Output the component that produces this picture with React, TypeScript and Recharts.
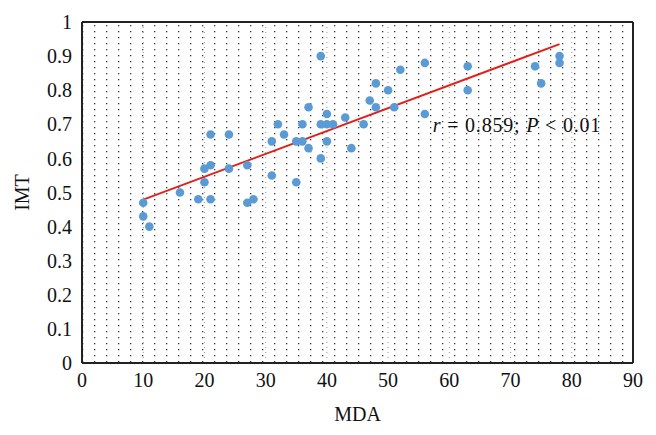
import React from 'react';
import {
  CartesianGrid,
  ReferenceDot,
  ReferenceLine,
  Scatter,
  ScatterChart,
  XAxis,
  YAxis,
} from 'recharts';

// MDA (x) and IMT (y) per subject
const mdaValues = [
  10, 10, 11, 16, 19, 20, 20, 21, 21, 21, 24, 24, 27, 27, 28, 31, 31, 32, 33, 35, 35, 36, 36, 37, 37,
  39, 39, 39, 40, 40, 40, 41, 43, 44, 46, 47, 48, 48, 50, 51, 52, 56, 56, 63, 63, 74, 75, 78, 78,
];
const imtValues = [
  0.47, 0.43, 0.4, 0.5, 0.48, 0.57, 0.53, 0.58, 0.48, 0.67, 0.57, 0.67, 0.58, 0.47, 0.48, 0.65, 0.55,
  0.7, 0.67, 0.53, 0.65, 0.65, 0.7, 0.75, 0.63, 0.9, 0.7, 0.6, 0.73, 0.7, 0.65, 0.7, 0.72, 0.63, 0.7,
  0.77, 0.82, 0.75, 0.8, 0.75, 0.86, 0.88, 0.73, 0.87, 0.8, 0.87, 0.82, 0.9, 0.88,
];

// fitted trend line end points
const trendX = [10, 78];
const trendY = [0.479, 0.935];

const xTicks = [0, 10, 20, 30, 40, 50, 60, 70, 80, 90];
const yTicks = [0, 0.1, 0.2, 0.3, 0.4, 0.5, 0.6, 0.7, 0.8, 0.9, 1];

const points = mdaValues.map((x, i) => ({ x, y: imtValues[i] }));

const FONT = '"Liberation Serif", "Times New Roman", serif';
const tickStyle = { fill: '#111', fontSize: 20, fontFamily: FONT };
const frame = '#222';

function Annotation({ viewBox }: any) {
  if (!viewBox) return null;
  return (
    <text x={viewBox.x} y={viewBox.y} fontFamily={FONT} fontSize={20} fill="#111" letterSpacing={0.8}>
      <tspan fontStyle="italic">r</tspan>
      <tspan> = 0.859; </tspan>
      <tspan fontStyle="italic">P</tspan>
      <tspan> &lt; 0.01</tspan>
    </text>
  );
}

export default function App() {
  return (
    <ScatterChart width={640} height={419} margin={{ top: 14, right: 15, bottom: 6, left: 14 }}>
      <defs>
        {/* dotted fill of the plot area */}
        <pattern id="dots" patternUnits="userSpaceOnUse" x={74} y={14} width={12} height={6}>
          <rect x={12} y={3} width={1.3} height={1.3} fill="#3a3a3a" />
          <rect x={0} y={3} width={1.3} height={1.3} fill="#3a3a3a" />
        </pattern>
      </defs>
      <CartesianGrid
        fill="url(#dots)"
        fillOpacity={1}
        horizontal={false}
        stroke="#999"
        strokeDasharray="1 4"
      />
      <XAxis
        type="number"
        dataKey="x"
        domain={[0, 90]}
        ticks={xTicks}
        tickLine={false}
        tickSize={0}
        tickMargin={10}
        axisLine={{ stroke: frame, strokeWidth: 2 }}
        tick={tickStyle}
        height={58}
        label={{ value: 'MDA', position: 'insideBottom', offset: 0, style: tickStyle }}
      />
      <YAxis
        type="number"
        dataKey="y"
        domain={[0, 1]}
        ticks={yTicks}
        tickLine={false}
        tickSize={0}
        tickMargin={10}
        axisLine={{ stroke: frame, strokeWidth: 2 }}
        tick={tickStyle}
        width={60}
        label={{
          value: 'IMT',
          angle: -90,
          position: 'insideLeft',
          offset: 0,
          style: { ...tickStyle, textAnchor: 'middle' },
        }}
      />
      <ReferenceLine y={1} stroke={frame} strokeWidth={2} />
      <ReferenceLine x={90} stroke={frame} strokeWidth={2} />
      <Scatter
        data={points}
        fill="#5b9bd5"
        isAnimationActive={false}
        shape={(p: any) => <circle cx={p.cx} cy={p.cy} r={4.3} fill="#5b9bd5" />}
      />
      <ReferenceLine
        segment={[
          { x: trendX[0], y: trendY[0] },
          { x: trendX[1], y: trendY[1] },
        ]}
        stroke="#e0221c"
        strokeWidth={2}
      />
      <ReferenceDot x={57.3} y={0.678} r={0} fill="none" stroke="none" label={<Annotation />} />
    </ScatterChart>
  );
}
